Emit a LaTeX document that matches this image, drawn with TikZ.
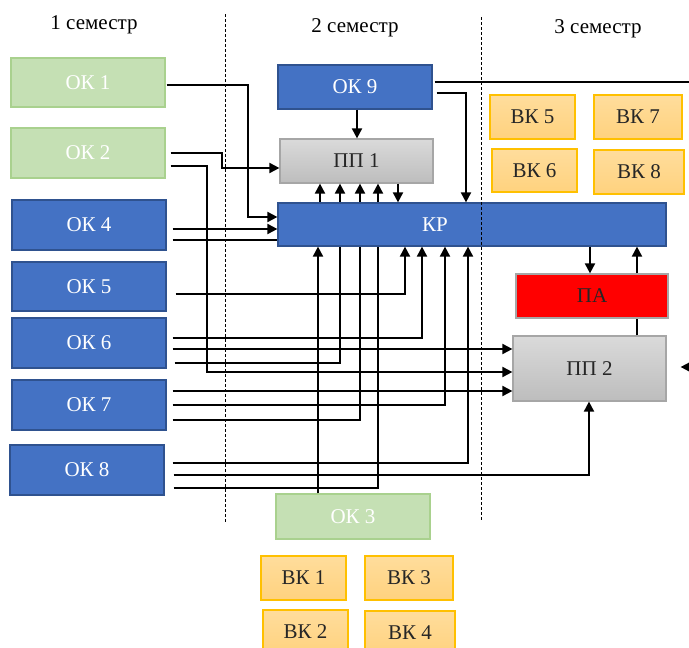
\documentclass[tikz,border=0pt]{standalone}
\usepackage{fontspec}
\setmainfont{Liberation Serif}
\usetikzlibrary{arrows.meta}
\definecolor{okgreen}{HTML}{C5E0B4}
\definecolor{okgreenb}{HTML}{A9D18E}
\definecolor{okblue}{HTML}{4472C4}
\definecolor{okblueb}{HTML}{2F528F}
\definecolor{ppt}{HTML}{DADADA}
\definecolor{ppb}{HTML}{BDBDBD}
\definecolor{ppd}{HTML}{A6A6A6}
\definecolor{vkt}{HTML}{FFDD9C}
\definecolor{vkb}{HTML}{FFD27E}
\definecolor{vkd}{HTML}{FFC000}
\definecolor{txtd}{HTML}{262626}
\tikzset{
  box/.style={draw, line width=1.2pt, inner sep=0pt, font=\fontsize{21}{25}\selectfont},
  okg/.style={box, fill=okgreen, draw=okgreenb, text=white},
  okb/.style={box, fill=okblue, draw=okblueb, text=white},
  ppbox/.style={box, top color=ppt, bottom color=ppb, draw=ppd, text=txtd},
  vkbox/.style={box, top color=vkt, bottom color=vkb, draw=vkd, text=txtd},
  pabox/.style={box, fill=red, draw=ppd, text=txtd},
  sem/.style={font=\fontsize{21}{25}\selectfont, inner sep=0pt},
  conn/.style={line width=1.9pt},
  arr/.style={conn, -{Triangle[length=10pt,width=10pt]}},
  sep/.style={line width=0.8pt, dash pattern=on 3pt off 2pt}
}
\begin{document}
\begin{tikzpicture}[x=1pt,y=-1pt]
\useasboundingbox (0,0) rectangle (689,648);
\clip (0,0) rectangle (689,648);
% semester labels
\node[sem] (s1) at (94,25) {1 семестр};
\node[sem] (s2) at (355,28) {2 семестр};
\node[sem] (s3) at (598,29) {3 семестр};
% boxes
\node[okg, minimum width=154pt, minimum height=49pt] (ok1) at (88,82.5) {ОК 1};
\node[okg, minimum width=154pt, minimum height=50pt] (ok2) at (88,153) {ОК 2};
\node[okb, minimum width=154pt, minimum height=50pt] (ok4) at (89,225) {ОК 4};
\node[okb, minimum width=154pt, minimum height=49pt] (ok5) at (89,286.5) {ОК 5};
\node[okb, minimum width=154pt, minimum height=50pt] (ok6) at (89,343) {ОК 6};
\node[okb, minimum width=154pt, minimum height=50pt] (ok7) at (89,405) {ОК 7};
\node[okb, minimum width=154pt, minimum height=50pt] (ok8) at (87,470) {ОК 8};
\node[okb, minimum width=154pt, minimum height=44pt] (ok9) at (355,87) {ОК 9};
\node[ppbox, minimum width=153pt, minimum height=44pt] (pp1) at (356.5,161) {ПП 1};
\node[okb, minimum width=388pt, minimum height=43pt] (kr) at (472,224.5) {};
\node[text=white, font=\fontsize{21}{25}\selectfont, inner sep=0pt] (krl) at (435,224.5) {КР};
\node[pabox, minimum width=152pt, minimum height=44pt] (pa) at (592,296) {ПА};
\node[ppbox, minimum width=153pt, minimum height=65pt] (pp2) at (589.5,368.5) {ПП 2};
\node[okg, minimum width=154pt, minimum height=45pt] (ok3) at (353,516.5) {ОК 3};
\node[vkbox, minimum width=85pt, minimum height=44pt] (vk1) at (303.5,578) {ВК 1};
\node[vkbox, minimum width=88pt, minimum height=44pt] (vk3) at (409,578) {ВК 3};
\node[vkbox, minimum width=85pt, minimum height=44pt] (vk2) at (305.5,632) {ВК 2};
\node[vkbox, minimum width=90pt, minimum height=44pt] (vk4) at (410,633) {ВК 4};
\node[vkbox, minimum width=85pt, minimum height=44pt] (vk5) at (532.5,117) {ВК 5};
\node[vkbox, minimum width=88pt, minimum height=44pt] (vk7) at (638,117) {ВК 7};
\node[vkbox, minimum width=85pt, minimum height=43pt] (vk6) at (534.5,170.5) {ВК 6};
\node[vkbox, minimum width=90pt, minimum height=44pt] (vk8) at (639,172) {ВК 8};
% connectors from OK1, OK2
\draw[arr] ([xshift=1pt]ok1.east |- 0,85) -- (248,85) -- (248,217) -- (kr.west |- 0,217);
\draw[arr] ([xshift=5pt]ok2.east |- 0,153) -- (222,153) -- (222,168) -- (pp1.west |- 0,168);
\draw[arr] ([xshift=5pt]ok2.east |- 0,166) -- (207,166) -- (207,372) -- (pp2.west |- 0,372);
% OK4
\draw[arr] ([xshift=6pt]ok4.east |- 0,229) -- (kr.west |- 0,229);
\draw[conn] ([xshift=6pt]ok4.east |- 0,240) -- (kr.west |- 0,240);
% OK5
\draw[arr] ([xshift=9pt]ok5.east |- 0,294) -- (405,294) -- (405,0 |- kr.south);
% OK6
\draw[arr] ([xshift=6pt]ok6.east |- 0,338) -- (422,338) -- (422,0 |- kr.south);
\draw[arr] ([xshift=6pt]ok6.east |- 0,349) -- (pp2.west |- 0,349);
\draw[conn] ([xshift=8pt]ok6.east |- 0,363) -- (340,363) -- (340,0 |- kr.south);
% OK7
\draw[arr] ([xshift=6pt]ok7.east |- 0,391) -- (pp2.west |- 0,391);
\draw[arr] ([xshift=6pt]ok7.east |- 0,405) -- (445,405) -- (445,0 |- kr.south);
\draw[conn] ([xshift=6pt]ok7.east |- 0,420) -- (360,420) -- (360,0 |- kr.south);
% OK8
\draw[arr] ([xshift=8pt]ok8.east |- 0,463) -- (468,463) -- (468,0 |- kr.south);
\draw[arr] ([xshift=9pt]ok8.east |- 0,475) -- (589,475) -- (589,0 |- pp2.south);
\draw[conn] ([xshift=9pt]ok8.east |- 0,488) -- (378,488) -- (378,0 |- kr.south);
% OK3
\draw[arr] (318,0 |- ok3.north) -- (318,0 |- kr.south);
% KR -> PP1 and back
\foreach \x in {320,340,360,378} \draw[arr] (\x,0 |- kr.north) -- (\x,0 |- pp1.south);
\draw[arr] (398,0 |- pp1.south) -- (398,0 |- kr.north);
% OK9
\draw[arr] (357,0 |- ok9.south) -- (357,0 |- pp1.north);
\draw[arr] ([xshift=4pt]ok9.east |- 0,93) -- (466,93) -- (466,0 |- kr.north);
\draw[arr, shorten >=14pt] ([xshift=2pt]ok9.east |- 0,82) -- (700,82) -- (700,367) -- (pp2.east |- 0,367);
% KR, PA, PP2
\draw[arr] (590,0 |- kr.south) -- (590,0 |- pa.north);
\draw[arr] (637,0 |- pa.north) -- (637,0 |- kr.south);
\draw[conn] (637,0 |- pp2.north) -- (637,0 |- pa.south);
% semester separators
\draw[sep] (225,14) -- (225,522);
\draw[sep] (481,17) -- (481,520);
\end{tikzpicture}
\end{document}
